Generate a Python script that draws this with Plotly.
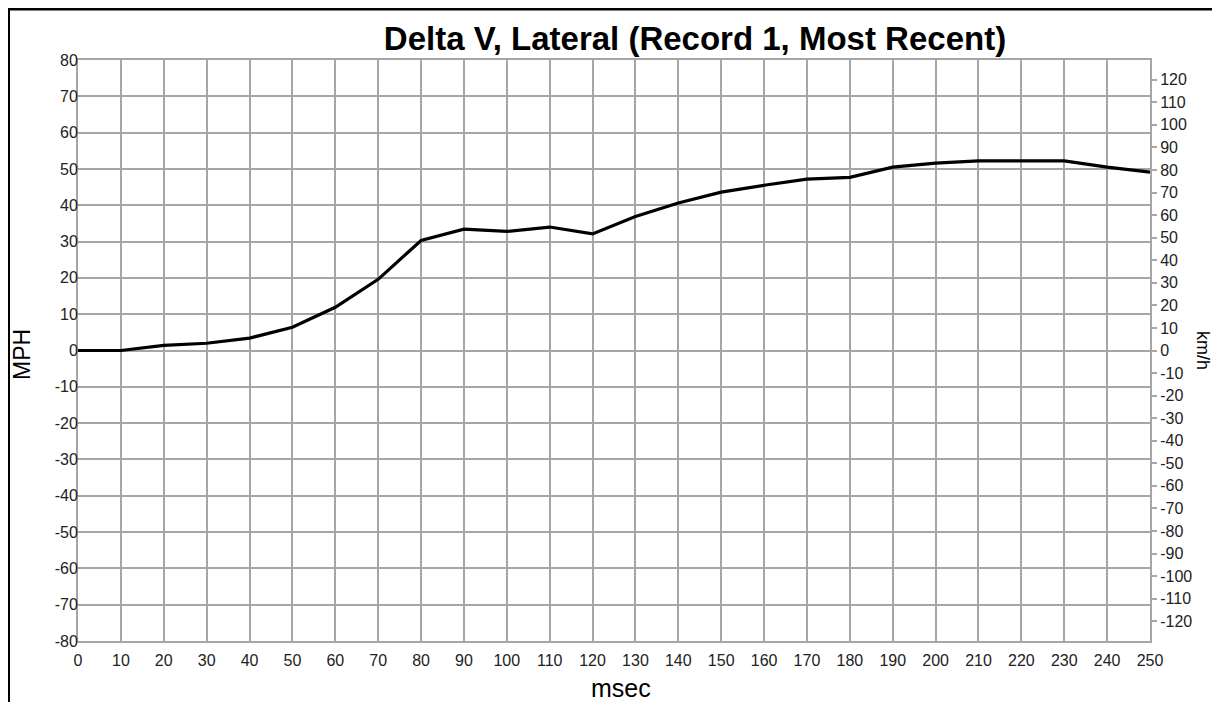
import plotly.graph_objects as go

msec = [0, 10, 20, 30, 40, 50, 60, 70, 80, 90, 100, 110, 120, 130, 140, 150,
        160, 170, 180, 190, 200, 210, 220, 230, 240, 250]
mph = [0.0, 0.0, 1.4, 2.0, 3.4, 6.4, 11.9, 19.6, 30.3, 33.4, 32.8, 34.0, 32.1,
       36.9, 40.6, 43.6, 45.5, 47.2, 47.7, 50.5, 51.6, 52.2, 52.2, 52.2, 50.5, 49.1]

x_ticks = list(range(0, 251, 10))
mph_ticks = list(range(-80, 81, 10))
kmh_ticks = list(range(-120, 121, 10))
KMH_PER_MPH = 1.609344

title_text = "Delta V, Lateral (Record 1, Most Recent)"

FONT = "Liberation Sans, Arial, Helvetica, sans-serif"
GRID = "#a6a6a6"

W, H = 1212, 694
L, R, T, B = 70, 70, 52, 61
PW, PH = W - L - R, H - T - B


def px(x):
    return (x - L) / PW


def py(y):
    return (H - B - y) / PH


fig = go.Figure()
fig.add_trace(go.Scatter(x=msec, y=mph, mode="lines",
                         line=dict(color="black", width=3.2),
                         showlegend=False, hoverinfo="x+y"))
# invisible trace for the km/h axis
fig.add_trace(go.Scatter(x=[msec[0]], y=[0], yaxis="y2", mode="markers",
                         marker=dict(opacity=0), showlegend=False, hoverinfo="skip"))

fig.update_layout(
    width=W, height=H,
    paper_bgcolor="white", plot_bgcolor="white",
    margin=dict(l=L, r=R, t=T, b=B, autoexpand=False),
    font=dict(family=FONT, size=16, color="#222222"),
    title=dict(text="<b>" + title_text + "</b>", x=687 / W, xref="container",
               y=1 - 30 / H, yref="container", xanchor="center", yanchor="middle",
               font=dict(size=33, color="black")),
    xaxis=dict(range=[0, 250], tickvals=x_ticks, ticktext=[str(v) for v in x_ticks],
               showgrid=True, gridcolor=GRID, gridwidth=2,
               showline=True, linecolor=GRID, linewidth=2, mirror=True,
               ticks="", zeroline=False, ticklabelstandoff=4),
    yaxis=dict(range=[-80, 80], tickvals=mph_ticks, ticktext=[str(v) for v in mph_ticks],
               showgrid=True, gridcolor=GRID, gridwidth=2,
               showline=True, linecolor=GRID, linewidth=2, mirror=True,
               ticks="", zeroline=False, ticklabelstandoff=-5),
    yaxis2=dict(overlaying="y", side="right",
                range=[-80 * KMH_PER_MPH, 80 * KMH_PER_MPH],
                tickvals=kmh_ticks, ticktext=[str(v) for v in kmh_ticks],
                showgrid=False, zeroline=False, showline=False,
                ticks="outside", ticklen=6, tickwidth=1.5, tickcolor=GRID),
)

fig.add_annotation(text="MPH", xref="paper", yref="paper",
                   x=px(14), y=py(347), showarrow=False, textangle=-90,
                   xanchor="center", yanchor="middle",
                   font=dict(size=23, color="black"))
fig.add_annotation(text="msec", xref="paper", yref="paper",
                   x=px(613), y=py(680), showarrow=False,
                   xanchor="center", yanchor="middle",
                   font=dict(size=25, color="black"))
fig.add_annotation(text="km/h", xref="paper", yref="paper",
                   x=px(1195), y=py(342), showarrow=False, textangle=90,
                   xanchor="center", yanchor="middle",
                   font=dict(size=18, color="black"))

fig.add_shape(type="rect", xref="paper", yref="paper",
              x0=px(0.5), x1=px(1209),
              y0=-0.3, y1=py(1),
              line=dict(color="black", width=3), fillcolor="rgba(0,0,0,0)",
              layer="above")

fig.write_html("out.html")
